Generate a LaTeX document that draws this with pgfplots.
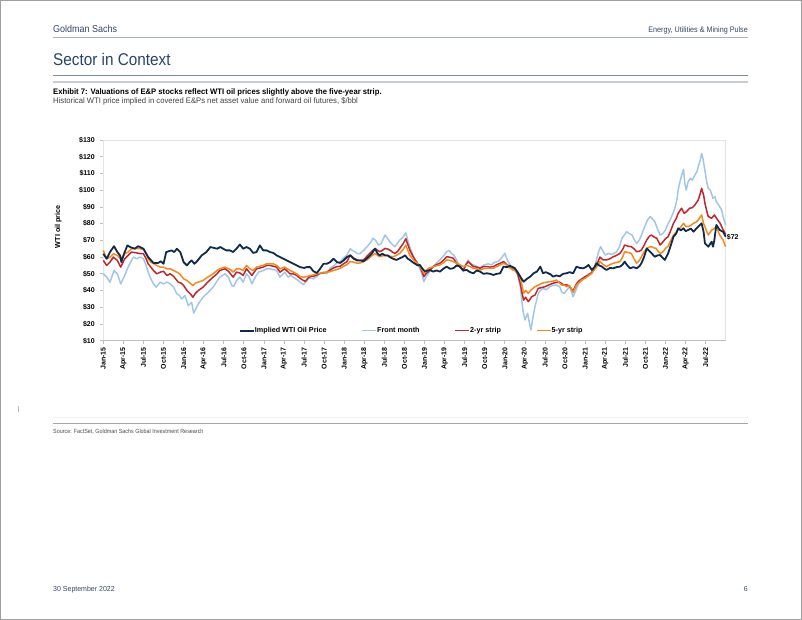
\documentclass[border=0pt]{standalone}
\usepackage{fontspec}
\setmainfont{Liberation Sans}
\newfontfamily\condf{Liberation Sans}[FakeStretch=0.9]
\newfontfamily\condg{Liberation Sans}[FakeStretch=0.96]
\usepackage{pgfplots}
\pgfplotsset{compat=1.18}

\definecolor{navyc}{RGB}{14,42,77}
\definecolor{frontc}{RGB}{160,199,234}
\definecolor{twoc}{RGB}{192,38,44}
\definecolor{fivec}{RGB}{246,137,30}
\definecolor{gstext}{RGB}{48,72,104}
\definecolor{sectc}{RGB}{40,68,104}
\definecolor{hline}{RGB}{168,178,192}
\definecolor{ruleA}{RGB}{125,139,160}
\definecolor{ruleB}{RGB}{200,205,212}
\definecolor{axgray}{RGB}{190,190,190}
\definecolor{boxgray}{RGB}{228,228,228}

\begin{document}
\begin{tikzpicture}
\useasboundingbox (0,0) rectangle (802pt,-620pt);
\draw[gray!75, line width=1pt] (0.5pt,-0.5pt) rectangle (801.5pt,-619.5pt);

% page header
\node[anchor=base west, inner sep=0, text=gstext, font=\condf\fontsize{10}{12}\selectfont] at (53pt,-33pt) {Goldman Sachs};
\node[anchor=base east, inner sep=0, text=gstext, font=\condf\fontsize{8}{10}\selectfont] at (748pt,-32.5pt) {Energy, Utilities \& Mining Pulse};
\draw[hline, line width=0.8pt] (53pt,-37.3pt) -- (748pt,-37.3pt);
\node[anchor=base west, inner sep=0, text=sectc, font=\condf\fontsize{17}{20}\selectfont] at (53pt,-65.5pt) {Sector in Context};
\draw[ruleA, line width=0.9pt] (53pt,-75.3pt) -- (748pt,-75.3pt);
\draw[ruleB, line width=2pt] (53pt,-82.3pt) -- (748pt,-82.3pt);

% exhibit titles
\node[anchor=base west, inner sep=0, font=\condg\bfseries\fontsize{8}{9}\selectfont] at (53pt,-95pt) {Exhibit 7: Valuations of E\&P stocks reflect WTI oil prices slightly above the five-year strip.};
\node[anchor=base west, inner sep=0, text=black!75, font=\condg\fontsize{8}{9}\selectfont] at (53pt,-104pt) {Historical WTI price implied in covered E\&Ps net asset value and forward oil futures, \$/bbl};

\begin{axis}[
  at={(103.3pt,-340.7pt)}, anchor=south west,
  scale only axis, width=622.4pt, height=200.7pt,
  xmin=0, xmax=93, ymin=10, ymax=130,
  clip=false,
  axis line style={draw=boxgray, line width=0.8pt},
  tick align=outside, major tick length=3pt,
  tick style={draw=axgray, line width=0.7pt},
  xtick pos=bottom, ytick pos=left,
  ytick={10,20,...,130},
  yticklabels={\$10,\$20,\$30,\$40,\$50,\$60,\$70,\$80,\$90,\$100,\$110,\$120,\$130},
  yticklabel style={font=\bfseries\fontsize{7}{8}\selectfont, xshift=-2pt},
  xtick={0,3,...,90},
  xticklabels={Jan-15,Apr-15,Jul-15,Oct-15,Jan-16,Apr-16,Jul-16,Oct-16,Jan-17,Apr-17,Jul-17,Oct-17,Jan-18,Apr-18,Jul-18,Oct-18,Jan-19,Apr-19,Jul-19,Oct-19,Jan-20,Apr-20,Jul-20,Oct-20,Jan-21,Apr-21,Jul-21,Oct-21,Jan-22,Apr-22,Jul-22},
  xticklabel style={rotate=90, anchor=east, font=\bfseries\fontsize{7}{8}\selectfont},
  legend columns=4,
  legend cell align=left,
  legend image code/.code={\draw[#1] (0pt,0pt) -- (14pt,0pt);},
  legend style={draw=none, fill=none, at={(0.218,0.05)}, anchor=west, inner sep=0pt,
    font=\bfseries\fontsize{7.2}{8}\selectfont,
    /tikz/every even column/.append style={column sep=33pt},
    /tikz/every odd column/.append style={column sep=-2pt}},
]
\addlegendimage{navyc, line width=1.8pt}\addlegendentry{Implied WTI Oil Price}
\addlegendimage{frontc, line width=1.6pt}\addlegendentry{Front month}
\addlegendimage{twoc, line width=1.6pt}\addlegendentry{2-yr strip}
\addlegendimage{fivec, line width=1.6pt}\addlegendentry{5-yr strip}

% front month
\addplot[forget plot, frontc, line width=1.5pt, line join=round] coordinates {
(0,50) (0.5,48) (1.0,45) (1.6,52) (2.1,50) (2.6,44) (3.2,49) (3.7,54) (4.1,57) (4.5,60)
(5.0,59) (5.5,60) (6.0,59) (6.4,55) (6.7,51) (7.1,47) (7.5,44) (7.9,42) (8.5,45) (9.0,44)
(9.5,45) (10.0,44) (10.5,42) (11.0,38) (11.4,37) (11.7,35) (12.2,37) (12.7,31) (13.2,33) (13.5,26.5)
(14.2,32) (14.9,36) (15.3,37.5) (15.7,39) (16.4,42) (16.9,45) (17.4,48) (17.8,49) (18.2,50) (18.7,48)
(19.2,43) (19.5,42.5) (19.9,46) (20.4,48) (20.9,45) (21.4,50) (21.8,48) (22.2,44) (22.7,48) (23.2,51)
(23.9,52) (24.4,53) (24.9,53) (25.4,52.5) (25.9,52) (26.4,48) (27.1,51) (27.6,48) (28.0,49) (28.4,48)
(29.1,46) (29.6,44.5) (29.9,43.5) (30.3,45.5) (30.8,47.5) (31.4,47) (31.9,48.5) (32.4,50) (32.9,51) (33.4,50)
(33.9,53.3) (34.5,55) (34.9,56.5) (35.4,57.3) (35.9,59.5) (36.4,61.2) (36.9,65) (37.2,64) (37.6,63.2) (38.0,62)
(38.4,62.2) (38.9,64) (39.4,66.2) (39.9,68.5) (40.3,71.2) (40.7,70) (41.1,67.2) (41.5,68) (42.1,73.2) (42.5,71)
(42.8,69.2) (43.2,67.5) (43.6,66.2) (44.0,68.5) (44.3,70.2) (44.8,72) (45.2,74.5) (45.5,70) (45.8,66.2) (46.2,61.5)
(46.6,58.3) (47.0,56) (47.3,53.3) (47.6,50) (47.9,45.3) (48.2,48) (48.6,50.3) (49.0,53) (49.3,54.3) (49.8,56.5)
(50.3,58.3) (50.8,60.5) (51.3,63.2) (51.7,64) (52.0,62.2) (52.4,61) (52.8,58.3) (53.3,54) (53.8,51.3) (54.2,56)
(54.5,58.3) (54.9,56) (55.3,55.3) (55.8,54.5) (56.3,53.3) (56.7,55) (57.0,55.3) (57.5,56) (58.0,55.3) (58.5,57)
(59.0,57.3) (59.5,59.5) (60.0,62.2) (60.4,58) (60.8,55.3) (61.2,52) (61.5,53.3) (61.9,50) (62.3,42.3) (62.7,28.3)
(63.0,22.4) (63.4,26.4) (63.7,20) (63.9,16.4) (64.2,24) (64.5,30.3) (65.0,38.3) (65.3,40) (65.7,41.3) (66.2,40.5)
(66.7,42.3) (67.2,43) (67.7,43.3) (68.2,42.3) (68.5,39) (68.9,38.3) (69.2,40) (69.7,42.3) (70.2,36.3) (70.6,40)
(71.0,44.3) (71.5,46) (72.0,48.3) (72.5,50) (73.0,50.3) (73.4,54) (73.7,58.3) (74.0,63) (74.3,66.2) (75.0,61.2)
(75.5,62.2) (76.0,61.5) (76.7,63.2) (77.1,66) (77.5,71.2) (78.2,75.2) (78.6,74) (79.0,73.2) (79.4,70) (79.7,68.2)
(80.1,70.2) (80.5,74) (80.9,78.2) (81.3,82) (81.7,84.2) (82.0,83) (82.4,81.2) (82.8,77) (83.2,73.2) (83.6,74)
(84.0,76.2) (84.4,80) (84.7,82.2) (85.1,86) (85.4,89.2) (85.7,94) (85.9,100.1) (86.1,104) (86.3,107.1) (86.5,110)
(86.7,112.5) (86.9,104) (87.1,100.1) (87.4,105.1) (87.7,107.1) (88.0,106) (88.4,109.1) (88.7,111) (88.9,114.1) (89.2,118)
(89.4,122) (89.6,119) (89.8,114.1) (90.2,104.1) (90.4,101) (90.7,100.1) (91.1,95.1) (91.4,96) (91.6,93.1) (92.1,90.2)
(92.4,88) (92.6,84.2) (93.0,79)
};

% 2-yr strip
\addplot[forget plot, twoc, line width=1.5pt, line join=round] coordinates {
(0,58) (0.5,55) (1.0,57) (1.5,60) (2.1,58) (2.6,54) (3.2,59) (3.7,61) (4.2,63) (5.0,62.5)
(5.5,62) (6.0,62) (6.4,59) (6.7,56) (7.1,54) (7.5,52) (8.0,50) (8.5,51) (9.0,51.5) (9.5,49)
(10.0,50) (10.5,48.5) (11.2,45) (11.6,44.5) (12.0,43) (12.5,40) (13.0,38) (13.4,36) (13.8,38.5) (14.2,40)
(14.9,42) (15.6,45) (16.4,48) (17.0,50) (17.4,52) (18.2,53) (18.7,51.5) (19.0,50) (19.4,48) (19.9,51)
(20.4,50.5) (20.9,49) (21.4,53) (21.9,50.5) (22.2,49) (22.9,53) (23.9,54) (24.4,55) (24.9,55) (25.4,54.5)
(25.9,54) (26.4,51) (27.1,53) (27.5,51.5) (27.9,50) (28.4,50) (28.9,49) (29.4,47.3) (29.9,46) (30.2,45.5)
(30.6,47.5) (31.0,48.5) (31.4,48.5) (31.9,49.3) (32.4,50.3) (32.9,50.5) (33.4,51) (33.9,52.3) (34.4,53.5) (34.9,54.3)
(35.4,54.5) (35.9,56) (36.4,57.3) (36.9,61.2) (37.4,59.5) (37.9,58.3) (38.4,58) (38.9,58.3) (39.4,60.5) (39.8,62.2)
(40.6,65.2) (41.0,64) (41.3,63.2) (41.7,64) (42.1,65.2) (42.5,64.8) (42.8,64.2) (43.2,63) (43.6,62.2) (44.0,63.5)
(44.3,65.2) (44.8,68) (45.2,71) (45.5,67.5) (45.8,64.2) (46.2,61) (46.6,58.3) (47.0,56) (47.3,54.3) (47.6,51.5)
(47.9,48.3) (48.2,50) (48.6,51.3) (49.3,54.3) (49.8,55.5) (50.3,56.3) (50.8,58) (51.3,60.2) (51.7,60) (52.3,59.3)
(52.8,56.3) (53.3,54) (53.8,52.3) (54.2,55.5) (54.5,57.3) (55.0,55.5) (55.3,54.3) (55.8,54) (56.3,53.3) (56.8,54.3)
(57.3,54.3) (57.8,54) (58.3,54.3) (58.8,55.5) (59.3,56.3) (59.8,57.3) (60.3,55.5) (60.8,54.3) (61.2,53) (61.5,52.3)
(61.9,50) (62.3,44.3) (62.6,38) (62.8,34.3) (63.1,36) (63.5,33.3) (63.8,35) (64.0,36.3) (64.5,37.3) (65.0,41.3)
(65.5,41.8) (66.0,42.3) (66.5,43.2) (67.2,44.3) (67.6,44.8) (68.2,45) (68.5,44) (68.9,43.3) (69.2,43.5) (69.7,42.3)
(70.2,39.8) (70.7,44) (71.0,45.5) (71.5,47) (72.0,48.3) (72.5,49.3) (73.0,51) (73.3,52.3) (73.7,55) (74.2,60)
(74.7,58.3) (75.2,58.3) (75.7,59) (76.2,60.2) (76.7,61) (77.2,62.2) (77.6,64.5) (77.9,67.2) (78.4,66.5) (78.9,66.2)
(79.3,65) (79.7,63.2) (80.1,63.5) (80.4,64.2) (80.8,67) (81.2,70.2) (81.6,72.5) (81.9,73.2) (82.3,72) (82.7,71.2)
(83.2,67.2) (83.6,69) (84.0,71) (84.4,72.2) (84.8,76) (85.2,80.2) (85.6,83) (85.9,86.2) (86.4,89.2) (86.8,86.2)
(87.1,87) (87.6,89.2) (88.0,89.5) (88.4,91.2) (88.9,94.1) (89.2,98) (89.4,101.1) (89.7,97) (89.9,92.1) (90.2,87)
(90.4,84.2) (90.9,83.2) (91.3,85.2) (91.8,82.2) (92.2,80) (92.5,77.2) (93.0,73.5)
};

% 5-yr strip
\addplot[forget plot, fivec, line width=1.5pt, line join=round] coordinates {
(0,64) (0.5,59) (1.0,60) (1.5,62) (2.1,61) (2.6,59) (3.2,62) (3.7,63) (4.2,65) (5.0,65)
(5.5,65) (6.0,64.6) (6.4,62) (6.7,59) (7.1,57) (7.5,56) (8.0,55) (8.5,54) (9.0,54) (9.5,53)
(10.0,53) (10.5,52) (11.0,51) (11.4,50) (12.0,47) (12.5,46) (12.8,45) (13.4,43) (13.8,44.5) (14.2,45)
(14.9,46) (15.6,48) (16.4,50) (17.0,52) (17.4,53) (18.2,54) (18.7,53) (19.0,52.6) (19.4,51) (19.9,53)
(20.4,53) (20.9,52) (21.4,55) (21.9,53) (22.4,52) (22.9,54) (23.9,55) (24.4,56) (24.9,56) (25.4,56)
(25.9,55) (26.4,53) (27.1,54) (27.5,53) (27.9,52) (28.4,51) (28.9,50) (29.4,48.3) (29.9,48) (30.4,48.3)
(30.9,49) (31.4,49.3) (31.9,50) (32.4,50.3) (32.9,50.8) (33.4,51) (33.9,51.3) (34.4,52) (34.9,52.5) (35.4,53.3)
(35.9,54.5) (36.4,55.5) (36.9,57.3) (37.4,57) (37.9,56.3) (38.4,56.5) (38.9,57.3) (39.4,58.3) (39.9,60) (40.6,62.2)
(41.0,61) (41.3,60.2) (41.8,60.8) (42.3,61.2) (42.8,60.5) (43.3,60.2) (43.8,61) (44.3,62.2) (44.8,64.5) (45.2,67.2)
(45.5,64) (45.8,61.2) (46.2,59) (46.6,57.3) (47.0,56) (47.3,54.3) (47.6,52.5) (47.9,50.3) (48.2,52) (48.6,53.3)
(49.3,54.3) (49.8,54.8) (50.3,55.3) (50.8,56.5) (51.3,58.3) (51.8,58) (52.3,57.3) (52.8,56.3) (53.3,55.3) (53.8,54.3)
(54.3,55) (54.8,54.3) (55.3,53.3) (55.8,53) (56.3,52.3) (56.8,53) (57.3,53.3) (57.8,53.3) (58.3,53.3) (58.8,54.3)
(59.3,55.3) (59.8,56.3) (60.3,55.3) (60.8,53.3) (61.3,52.3) (61.8,51.3) (62.2,49) (62.4,46.3) (62.8,38.3) (63.1,40)
(63.5,38.3) (63.9,40.3) (64.5,42.3) (65.0,43.3) (65.5,44.3) (66.0,44.8) (66.7,45.3) (67.2,45.6) (67.7,46.3) (68.2,44.3)
(68.5,43.3) (68.9,43.3) (69.2,42.3) (69.7,42.8) (70.2,38.8) (70.7,43.3) (71.0,44.3) (71.5,46.3) (72.0,47.3) (72.5,48.8)
(73.0,50.3) (73.3,52.3) (73.7,54) (74.2,57.3) (74.7,55.5) (75.2,54.3) (75.7,55.5) (76.2,56.3) (76.7,56.8) (77.2,57.3)
(77.6,60) (77.9,63.2) (78.4,62.8) (78.9,62.2) (79.3,59) (79.7,56.3) (80.1,58) (80.4,60.2) (80.8,63) (81.2,65.2)
(81.6,66) (81.9,66.2) (82.3,65.5) (82.6,65.2) (83.0,63) (83.3,62.2) (83.7,63.5) (84.0,65.2) (84.4,66.5) (84.8,70)
(85.2,73.2) (85.6,75) (85.9,76.2) (86.3,78) (86.7,80.2) (87.0,78.5) (87.4,78.2) (87.8,79) (88.2,80.2) (88.6,81)
(88.9,82.2) (89.2,84) (89.4,85.2) (89.7,80) (89.9,78.2) (90.2,75) (90.4,73.2) (90.9,76.2) (91.3,77) (91.6,78.2)
(92.1,73.2) (92.6,70.2) (93.0,66.2)
};

% implied WTI oil price
\addplot[forget plot, navyc, line width=1.8pt, line join=round] coordinates {
(0,62) (0.5,59) (1.0,63) (1.6,66.5) (2.1,63) (2.5,61) (2.7,57) (3.1,62) (3.6,67) (4.0,66)
(4.7,65) (5.2,66.5) (6.0,65) (6.7,60) (7.5,56.5) (8.2,56.5) (8.6,57.5) (9.0,56) (9.4,63) (10.2,64)
(10.6,63) (11.0,65) (11.5,63) (12.0,57) (12.5,55) (12.9,57) (13.2,58) (13.6,56) (13.9,57) (14.3,59)
(14.7,61) (15.4,63) (16.0,66) (16.5,65.5) (17.0,65) (17.5,66) (17.9,65) (18.4,64) (18.9,64) (19.4,63)
(19.9,65) (20.4,67.5) (20.9,65) (21.4,66) (21.9,65) (22.4,62.5) (22.9,63) (23.4,67) (23.9,64) (24.4,64)
(24.9,63) (25.4,62.5) (25.9,61) (26.4,60) (26.9,59) (27.4,58) (27.9,57) (28.4,56) (28.9,55) (29.4,54)
(30.0,53.5) (30.4,54) (30.9,54) (31.4,51.5) (31.9,50.5) (32.4,53) (32.9,56) (33.4,56) (33.9,57) (34.4,59)
(34.9,57) (35.4,56.5) (35.9,58) (36.4,60) (36.9,61) (37.4,59) (37.9,58) (38.4,58) (38.9,57.5) (39.6,60)
(40.1,62) (40.6,65) (41.0,62) (41.3,61) (41.7,62) (42.1,61) (42.5,61) (42.8,60) (43.3,59) (43.8,58.3)
(44.3,59.3) (44.7,60) (45.1,61) (45.5,59) (45.8,58.3) (46.2,57) (46.6,56) (47.0,55) (47.3,55.3) (47.7,53)
(48.1,51.3) (48.5,52) (48.8,52.3) (49.3,51.3) (49.8,52) (50.3,51.3) (50.8,53) (51.3,54.3) (51.8,53) (52.3,53.3)
(52.8,55) (53.3,54.3) (53.8,52) (54.3,52.3) (54.8,51) (55.3,50.3) (55.8,52) (56.3,51.3) (56.8,50) (57.3,50.3)
(57.8,50) (58.3,49.3) (58.8,50) (59.3,50.3) (59.8,54.3) (60.3,54) (60.8,54.7) (61.2,54) (61.5,53.3) (61.9,51)
(62.3,48.3) (62.8,45.3) (63.3,47) (63.8,48.3) (64.3,50.3) (64.8,51.3) (65.3,54.3) (65.7,50.3) (66.1,51) (66.5,50.3)
(66.9,49.5) (67.2,48.3) (67.7,49) (68.2,48.5) (68.7,50) (69.2,50.3) (69.7,51) (70.2,50.3) (70.7,54.3) (71.2,53.5)
(71.7,53.3) (72.1,54) (72.5,55.3) (73.0,52.3) (73.4,54) (73.7,56.3) (74.1,55) (74.5,54.3) (74.9,53) (75.2,52.3)
(75.7,53.5) (76.2,53.3) (76.7,54) (77.2,54.3) (77.6,55.5) (77.9,57.3) (78.3,55) (78.7,53.3) (79.2,54) (79.7,53.3)
(80.1,54.5) (80.4,56.3) (80.8,60) (81.2,65.2) (81.7,63.2) (82.0,62) (82.4,60.2) (82.8,61) (83.2,61.2) (83.6,59.5)
(83.9,58.3) (84.4,62.2) (84.8,67) (85.2,72.2) (85.6,74) (85.9,77.2) (86.3,76) (86.7,77.2) (87.0,75.5) (87.4,76.2)
(87.8,77) (88.2,75.2) (88.6,77) (88.9,78.2) (89.4,80.2) (89.7,75) (89.9,68.2) (90.2,67) (90.4,66.2) (90.7,68)
(90.9,69.2) (91.1,66.2) (91.3,70) (91.6,79.2) (92.1,76.2) (92.6,75.2) (93.0,72.2)
};

\draw[axgray, line width=1pt] (rel axis cs:0,0) -- (rel axis cs:1,0);
\node[anchor=west, inner sep=1pt, font=\bfseries\fontsize{7}{8}\selectfont] at (axis cs:93,72) {\$72};
\end{axis}

\node[rotate=90, inner sep=0, font=\bfseries\fontsize{7.2}{8}\selectfont] at (58.3pt,-226.7pt) {WTI oil price};

% lower page parts
\draw[gray!55, line width=0.6pt] (18pt,-406pt) -- (18pt,-412pt);
\draw[gray!12, line width=0.6pt] (53pt,-417.3pt) -- (748pt,-417.3pt);
\draw[gray!70, line width=0.8pt] (53pt,-423.3pt) -- (748pt,-423.3pt);
\node[anchor=base west, inner sep=0, text=black!70, font=\condf\fontsize{6}{7}\selectfont] at (53pt,-433pt) {Source: FactSet, Goldman Sachs Global Investment Research};
\node[anchor=base west, inner sep=0, text=gstext, font=\condg\fontsize{7.3}{9}\selectfont] at (53pt,-591pt) {30 September 2022};
\node[anchor=base east, inner sep=0, text=gstext, font=\condg\fontsize{7.3}{9}\selectfont] at (748pt,-591pt) {6};
\end{tikzpicture}
\end{document}
